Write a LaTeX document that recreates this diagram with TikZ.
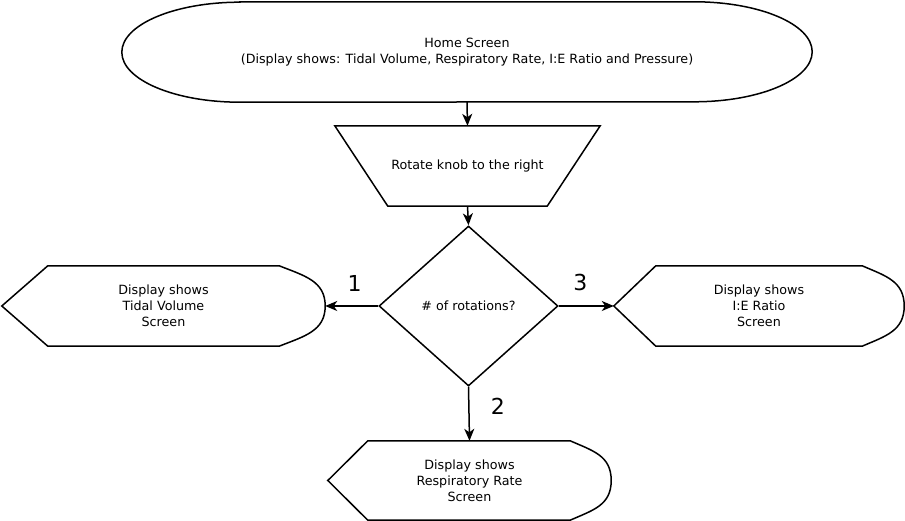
\documentclass[tikz,border=0pt]{standalone}
\usepackage{fontspec}
\setmainfont{DejaVu Sans}
\usetikzlibrary{arrows.meta,calc,shapes.geometric}

% outline of a display box: node, tip width, bulge width
\newcommand{\dispoutline}[3]{%
  \draw[outline] (#1.west) -- ($(#1.north west)+(#2,0)$) -- ($(#1.north east)+(-#3,0)$)
    .. controls +(0.55*#3,-10) and +(0,25) .. (#1.east)
    .. controls +(0,-25) and +(0.55*#3,10) .. ($(#1.south east)+(-#3,0)$)
    -- ($(#1.south west)+(#2,0)$) -- cycle;}

\begin{document}
\begin{tikzpicture}[x=1pt,y=1pt,
    outline/.style={draw=black,line width=1.5pt},
    txt/.style={font=\fontsize{12.7}{16}\selectfont,align=center,inner sep=0pt},
    num/.style={font=\fontsize{22}{26}\selectfont,inner sep=0pt},
    flow/.style={line width=1.5pt,-{Stealth[length=12pt,width=10pt,inset=3.5pt]}}]
  \useasboundingbox (0,0) rectangle (905,521);

  % boxes
  \node[txt,minimum width=690pt,minimum height=100pt] (home) at (467,469)
    {Home Screen\\(Display shows: Tidal Volume, Respiratory Rate, I:E Ratio and Pressure)};
  \node[txt,minimum width=265pt,minimum height=80pt] (knob) at (467.5,355) {Rotate knob to the right};
  \node[txt,outline,diamond,minimum width=179pt,minimum height=160pt] (rot) at (468.5,215) {\# of rotations?};
  \node[txt,minimum width=323pt,minimum height=80pt] (tv) at (163.5,215) {Display shows\\Tidal Volume\\Screen};
  \node[txt,minimum width=290pt,minimum height=80pt] (ie) at (759,215) {Display shows\\I:E Ratio\\Screen};
  \node[txt,minimum width=283pt,minimum height=79pt] (rr) at (469.5,40.5) {Display shows\\Respiratory Rate\\Screen};

  % outlines
  \draw[outline] ($(home.north west)+(118,0)$) -- ($(home.north east)+(-118,0)$)
    arc[start angle=90,end angle=-90,x radius=118,y radius=50]
    -- ($(home.south west)+(118,0)$)
    arc[start angle=270,end angle=90,x radius=118,y radius=50] -- cycle;
  \draw[outline] (knob.north west) -- (knob.north east) -- ($(knob.south east)+(-53,0)$)
    -- ($(knob.south west)+(53,0)$) -- cycle;
  \dispoutline{tv}{46}{46}
  \dispoutline{ie}{42}{42}
  \dispoutline{rr}{40}{41}

  % connectors
  \draw[flow] (home.south) -- (knob.north);
  \draw[flow] (knob.south) -- (rot.north);
  \draw[flow] (rot.west) -- node[num,above=14pt,xshift=3pt] (one) {1} (tv.east);
  \draw[flow] (rot.east) -- node[num,above=14pt,xshift=-6pt] (three) {3} (ie.west);
  \draw[flow] (rot.south) -- node[num,right=21pt,yshift=7pt] (two) {2} (rr.north);
\end{tikzpicture}
\end{document}
